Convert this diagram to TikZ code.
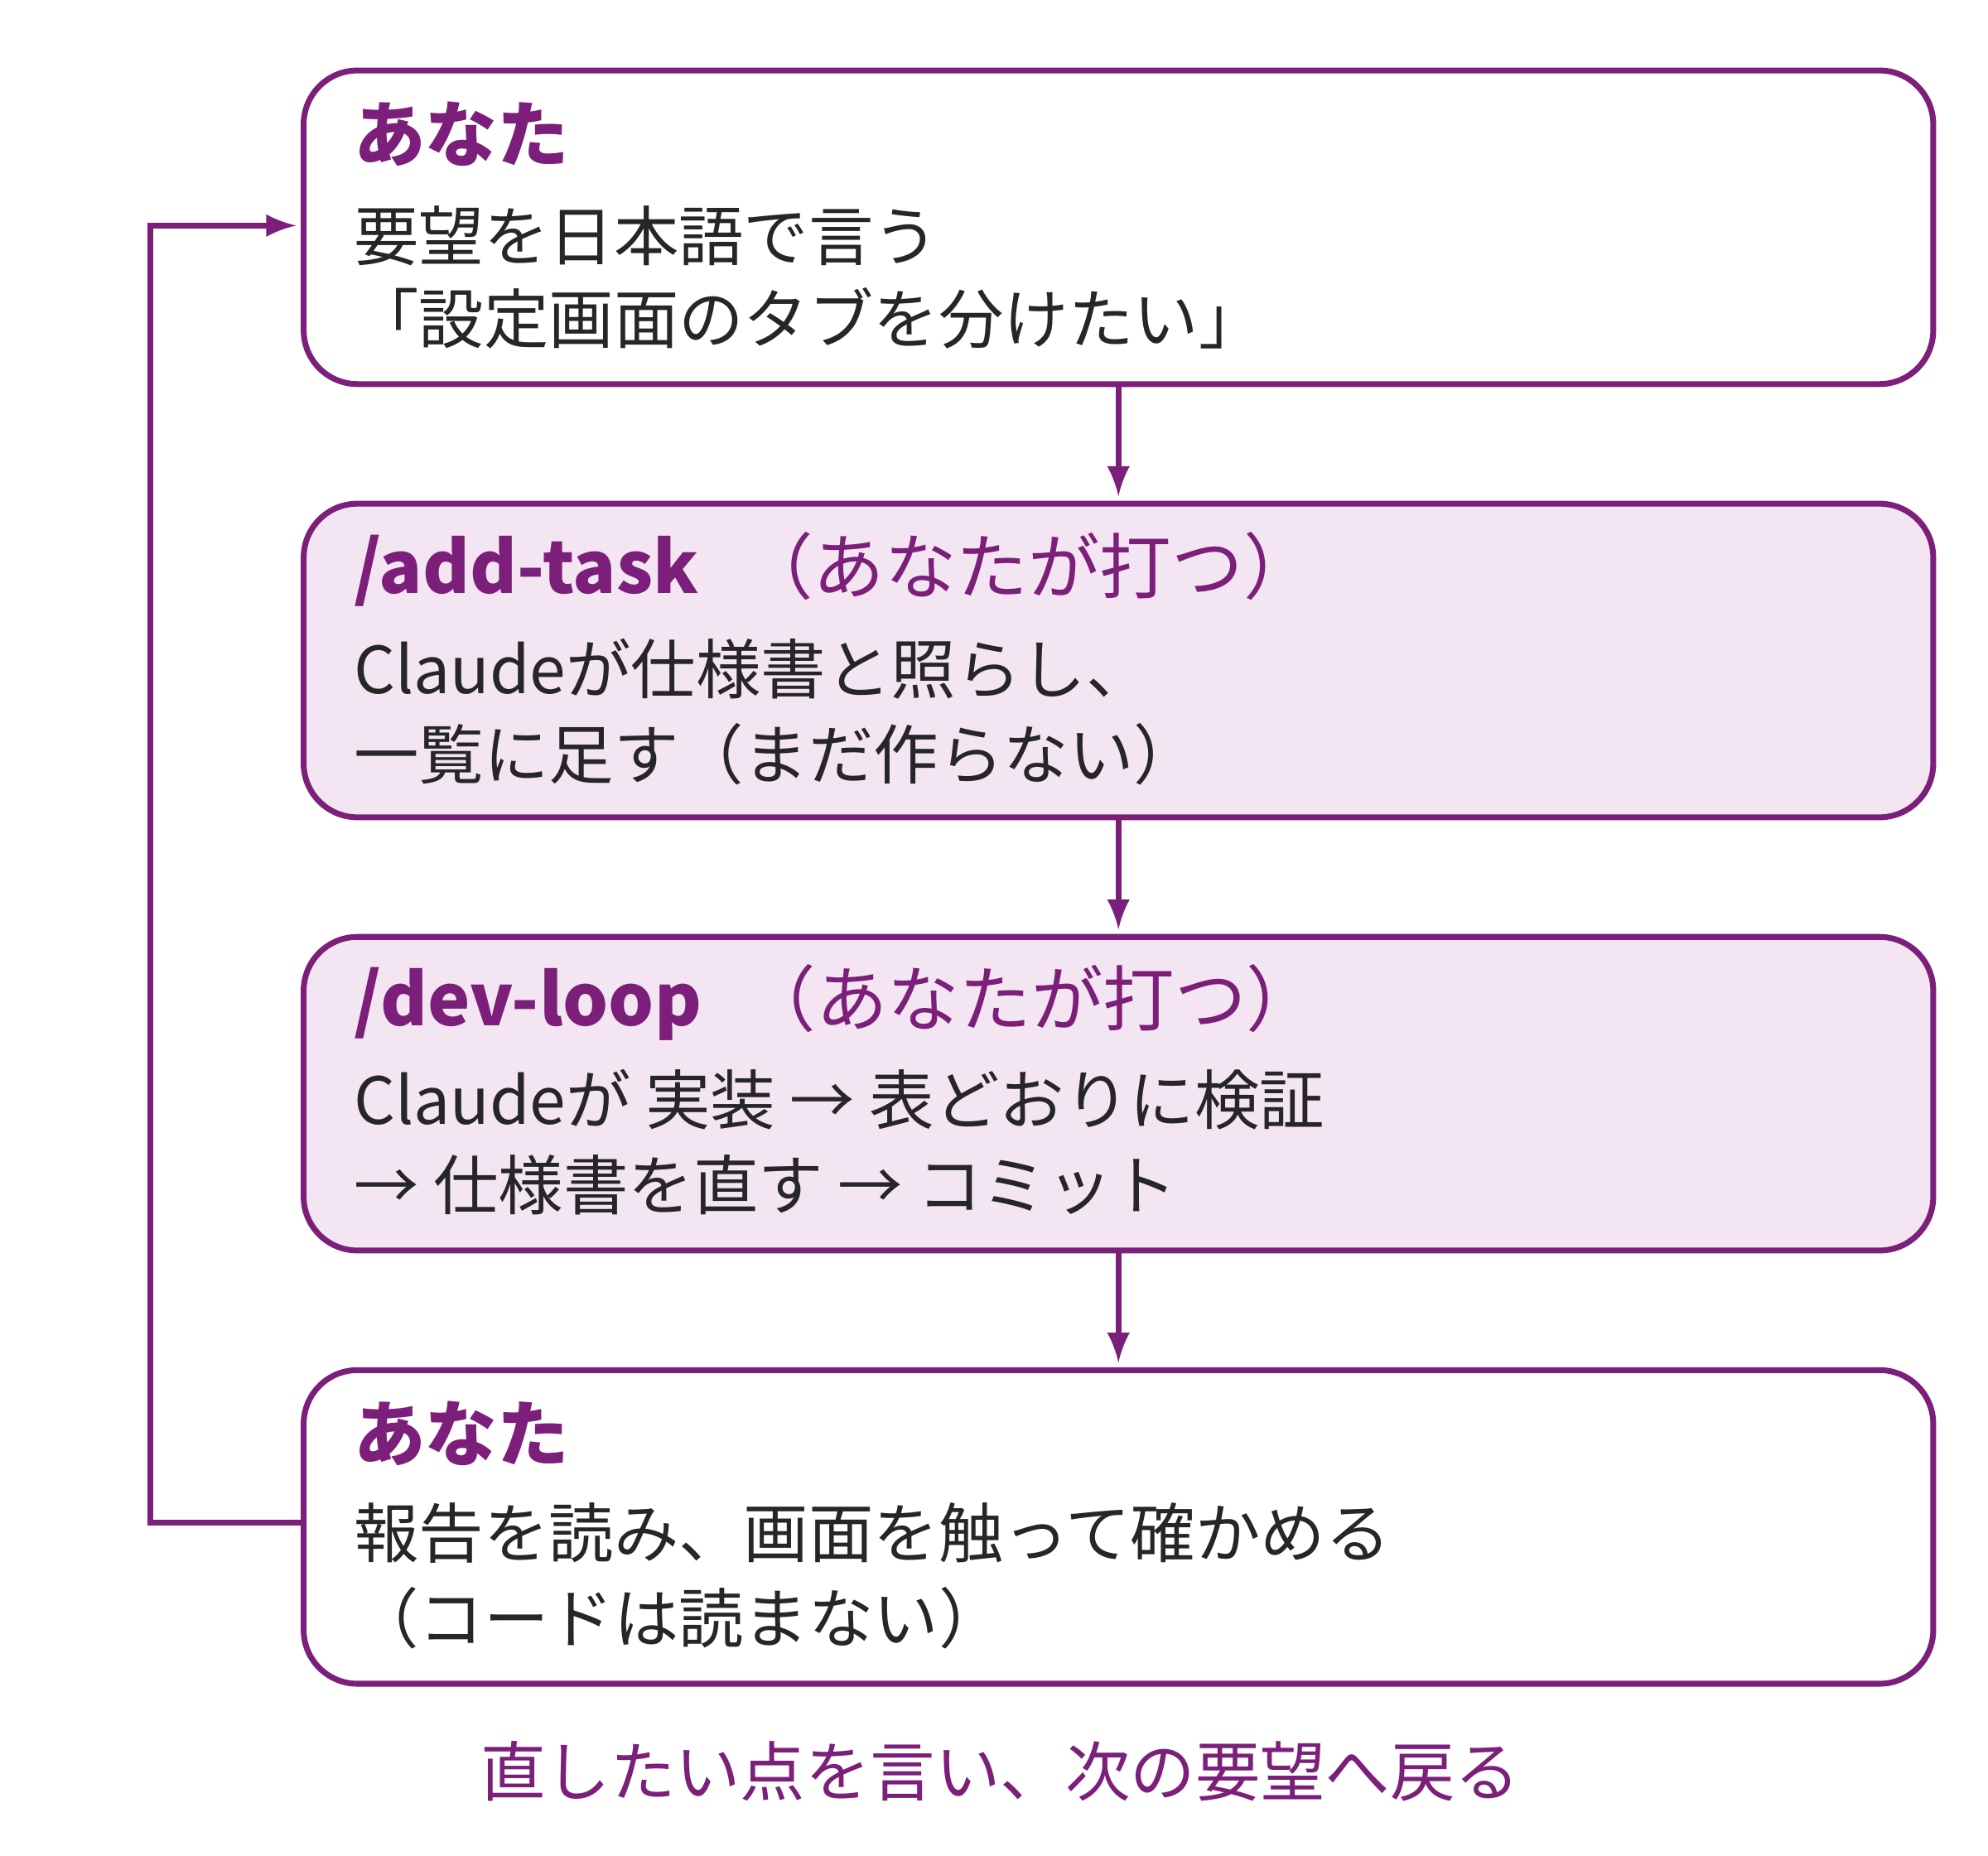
\documentclass[tikz,border=0pt]{standalone}
\usepackage{fontspec}
\setmainfont{Noto Sans CJK JP}
\usetikzlibrary{positioning}
\definecolor{plum}{HTML}{7B1F7A}
\definecolor{plumlight}{HTML}{F3E6F2}

\begin{document}
\begin{tikzpicture}[x=0.01cm,y=-0.01cm,>=latex]
		\tikzstyle{stage}=[draw=plum,line width=1.3pt,rounded corners=12pt,minimum width=12.78cm,minimum height=2.46cm,anchor=north west,inner sep=0pt]
		\tikzstyle{cmd stage}=[stage,fill=plumlight]
		\tikzstyle{title}=[anchor=west,inner sep=0pt,font=\fontsize{16pt}{18pt}\selectfont\bfseries,text=plum]
		\tikzstyle{body}=[anchor=west,inner sep=0pt,font=\fontsize{14.5pt}{17pt}\selectfont,text=black!85]
		\tikzstyle{flow}=[->,draw=plum,line width=1.3pt,shorten >=1pt]
		\useasboundingbox (0,0) rectangle (1560,1456);
		
		% the four stages
		\node[stage] (you1) at (236,53) {};
		\node[cmd stage] (add) at (236,393) {};
		\node[cmd stage] (dev) at (236,733) {};
		\node[stage] (you2) at (236,1073) {};
		
		% texts of the stages
		\node[title] (you1-t) at (277,105) {あなた};
		\node[body] (you1-a) at (277,185) {要望を日本語で言う};
		\node[body] (you1-b) at (277,250) {「設定画面のタブを分けたい」};
		
		\node[title] (add-t) at (277,447) {/add-task\hspace{0.6em}{\mdseries（あなたが打つ）}};
		\node[body] (add-a) at (277,525) {Claudeが仕様書と照らし、};
		\node[body] (add-b) at (277,592) {一覧に足す（まだ作らない）};
		
		\node[title] (dev-t) at (277,787) {/dev-loop\hspace{0.6em}{\mdseries（あなたが打つ）}};
		\node[body] (dev-a) at (277,863) {Claudeが 実装 → 表どおりに検証};
		\node[body] (dev-b) at (277,930) {→ 仕様書を直す → コミット};
		
		\node[title] (you2-t) at (277,1125) {あなた};
		\node[body] (you2-a) at (277,1203) {報告を読み、画面を触って確かめる};
		\node[body] (you2-b) at (277,1270) {（コードは読まない）};
		
		\node[body,anchor=center,text=plum] (back) at (785,1390) {直したい点を言い、次の要望へ戻る};
		
		% connectors
		\draw[flow] (you1.south) -- (add.north);
		\draw[flow] (add.south) -- (dev.north);
		\draw[flow] (dev.south) -- (you2.north);
		\coordinate (loop-bl) at (118,1195);
		\coordinate (loop-tl) at (118,177);
		\draw[flow] (you2.west |- loop-bl) -- (loop-bl) -- (loop-tl) -- (you1.west |- loop-tl);
\end{tikzpicture}
\end{document}
